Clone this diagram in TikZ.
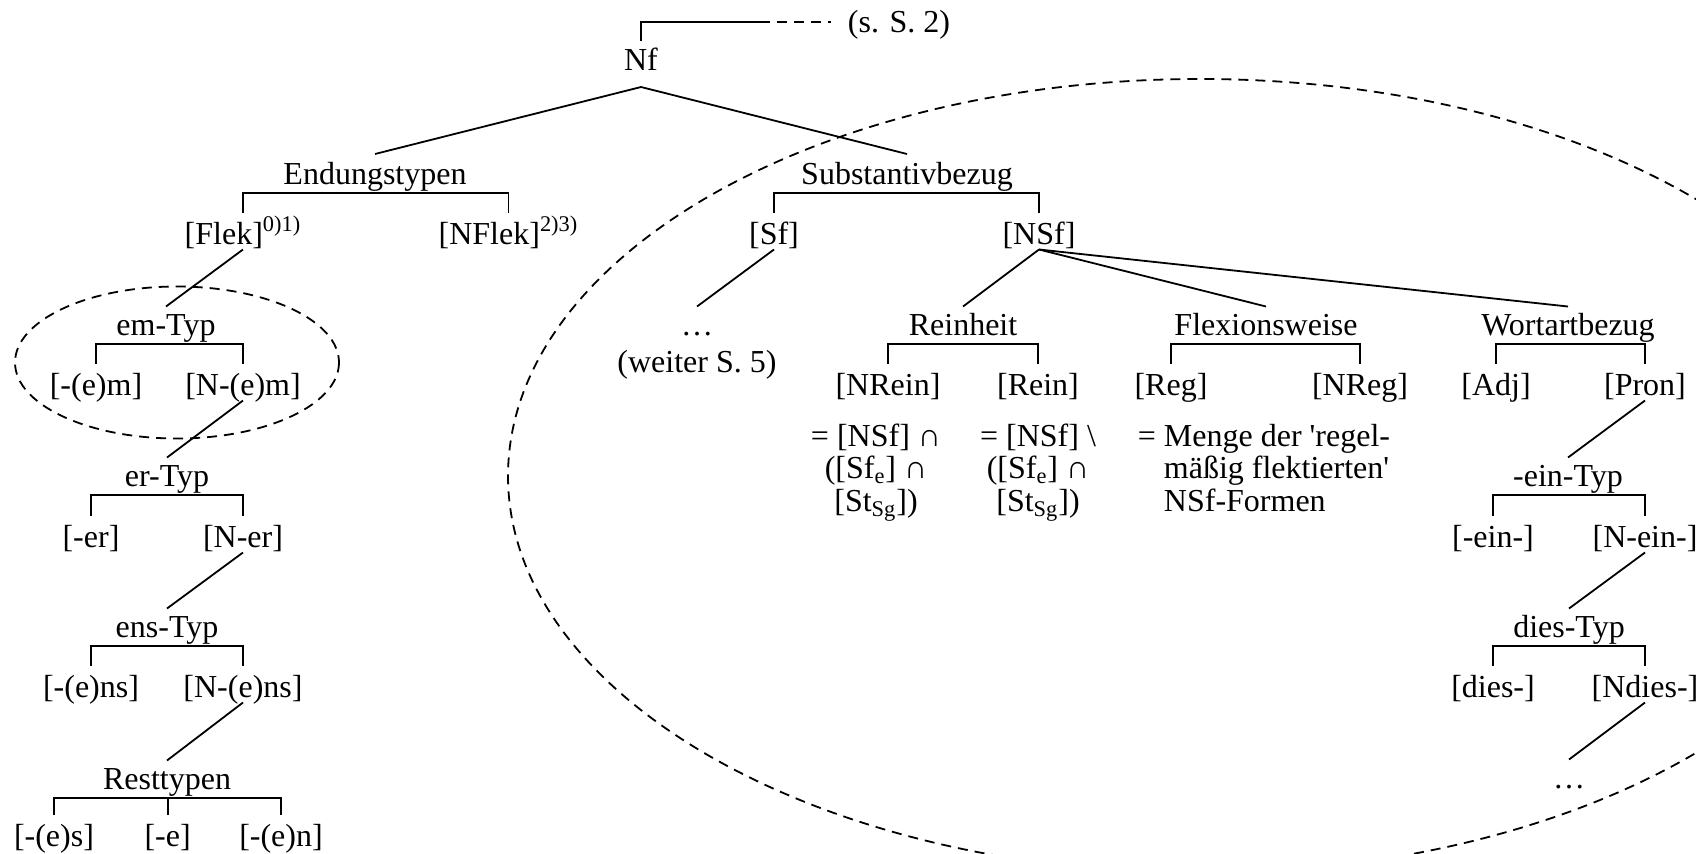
\documentclass[tikz,border=0pt]{standalone}
\usepackage{fontspec}
\setmainfont{Liberation Serif}
\newcommand\mybrk[3]{\draw ([yshift=15.75pt]#2.base) |- ([yshift=-4.5pt]#1.base) -| ([yshift=15.75pt]#3.base);}
\newcommand\mylnk[2]{\draw ([yshift=-2.75pt]#1.base) -- ([yshift=14.25pt]#2.base);}
\begin{document}
\begin{tikzpicture}[x=0.5pt,y=-0.5pt, line width=0.9pt,
  tn/.style={inner sep=0pt, anchor=base, font=\fontsize{16}{16.25}\selectfont},
  fm/.style={tn, align=center},
  dsh/.style={dash pattern=on 5pt off 3.5pt}]
\useasboundingbox (0,0) rectangle (1696,853);
% dashed ellipses
\begin{scope}
\clip (0,0) rectangle (1696,853);
\draw[dsh] (1200,476) ellipse [x radius=692, y radius=397];
\end{scope}
\draw[dsh] (177,362.5) ellipse [x radius=162, y radius=76];
% top
\node[tn] (nf) at (641,70) {Nf};
\node[tn, anchor=base west] (ref) at (847,32) {(s. S. 2)};
\coordinate (tb) at (760,22);
\draw ([yshift=14.5pt]nf.base) |- (tb);
\draw[dsh] (tb) -- (tb -| ref.west) [shorten >=8pt];
% level 1
\node[tn] (endt) at (375,184) {Endungstypen};
\node[tn] (subst) at (907,184) {Substantivbezug};
\draw ([yshift=-8.5pt]nf.base) -- ([yshift=15pt]endt.base);
\draw ([yshift=-8.5pt]nf.base) -- ([yshift=15pt]subst.base);
% Endungstypen
\node[tn] (flek) at (243,244) {[Flek]\textsuperscript{0)1)}};
\node[tn] (nflek) at (508.5,244) {[NFlek]\textsuperscript{2)3)}};
\mybrk{endt}{flek}{nflek}
\node[tn] (emtyp) at (166,335) {em-Typ};
\node[tn] (em1) at (96,395) {[-(e)m]};
\node[tn] (em2) at (243,395) {[N-(e)m]};
\mylnk{flek}{emtyp}
\mybrk{emtyp}{em1}{em2}
\node[tn] (ertyp) at (167,486) {er-Typ};
\node[tn] (er1) at (91,547) {[-er]};
\node[tn] (er2) at (243,547) {[N-er]};
\mylnk{em2}{ertyp}
\mybrk{ertyp}{er1}{er2}
\node[tn] (enstyp) at (167,637) {ens-Typ};
\node[tn] (ens1) at (91,697) {[-(e)ns]};
\node[tn] (ens2) at (243,697) {[N-(e)ns]};
\mylnk{er2}{enstyp}
\mybrk{enstyp}{ens1}{ens2}
\node[tn] (rest) at (167,789) {Resttypen};
\node[tn] (r1) at (54,846) {[-(e)s]};
\node[tn] (r2) at (167.6,846) {[-e]};
\node[tn] (r3) at (281,846) {[-(e)n]};
\mylnk{ens2}{rest}
\mybrk{rest}{r1}{r3}
\coordinate (restbar) at ([yshift=-4.5pt]rest.base);
\draw ([yshift=15.75pt]r2.base) -- (r2.base |- restbar);
% Substantivbezug
\node[tn] (sf) at (774,244) {[Sf]};
\node[tn] (nsf) at (1039,244) {[NSf]};
\mybrk{subst}{sf}{nsf}
\node[tn] (dots) at (697,335) {…};
\node[tn] (weiter) at (697,372) {(weiter S. 5)};
\mylnk{sf}{dots}
% Reinheit
\node[tn] (rein) at (963,335) {Reinheit};
\node[tn] (nrein) at (888,395) {[NRein]};
\node[tn] (reinb) at (1038,395) {[Rein]};
\mylnk{nsf}{rein}
\mybrk{rein}{nrein}{reinb}
\node[fm] (f1) at (876,511) {= [NSf] ∩\\{}([Sf\textsubscript{e}] ∩\\{}[St\textsubscript{Sg}])};
\node[fm] (f2) at (1038,511) {= [NSf] \textbackslash\\{}([Sf\textsubscript{e}] ∩\\{}[St\textsubscript{Sg}])};
% Flexionsweise
\node[tn] (flex) at (1266,335) {Flexionsweise};
\node[tn] (reg) at (1171,395) {[Reg]};
\node[tn] (nreg) at (1360,395) {[NReg]};
\mylnk{nsf}{flex}
\mybrk{flex}{reg}{nreg}
\node[tn, align=left, anchor=base west] (f3) at (1137,511) {= Menge der \textquotesingle regel-\\\hphantom{= }mäßig flektierten\textquotesingle\\\hphantom{= }NSf-Formen};
% Wortartbezug
\node[tn] (wort) at (1568,335) {Wortartbezug};
\node[tn] (adj) at (1496,395) {[Adj]};
\node[tn] (pron) at (1645,395) {[Pron]};
\mylnk{nsf}{wort}
\mybrk{wort}{adj}{pron}
\node[tn] (eintyp) at (1568,486) {-ein-Typ};
\node[tn] (ein1) at (1493,547) {[-ein-]};
\node[tn] (ein2) at (1645,547) {[N-ein-]};
\mylnk{pron}{eintyp}
\mybrk{eintyp}{ein1}{ein2}
\node[tn] (diestyp) at (1569,637) {dies-Typ};
\node[tn] (dies1) at (1493,697) {[dies-]};
\node[tn] (dies2) at (1645,697) {[Ndies-]};
\mylnk{ein2}{diestyp}
\mybrk{diestyp}{dies1}{dies2}
\node[tn] (dots2) at (1569,788) {…};
\mylnk{dies2}{dots2}
\end{tikzpicture}
\end{document}
